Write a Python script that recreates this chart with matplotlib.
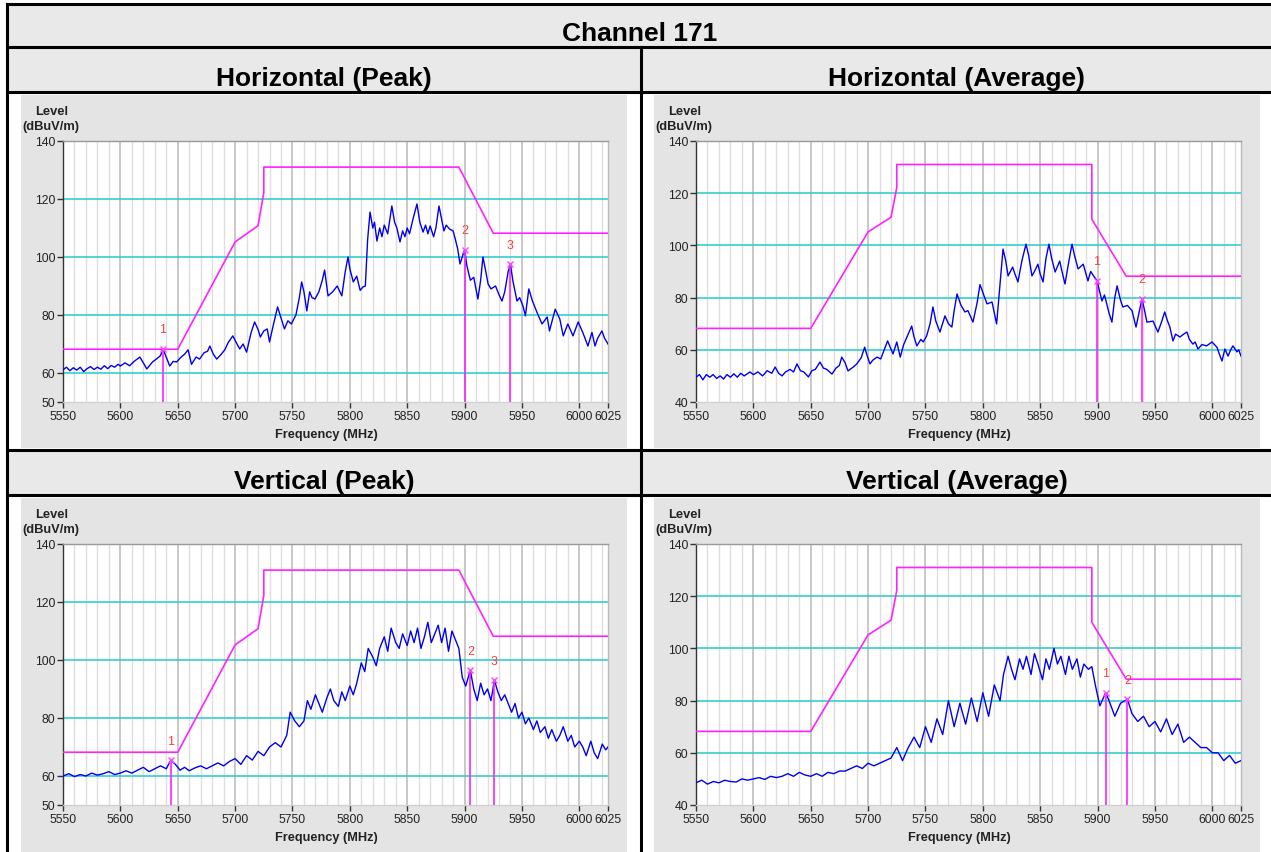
import numpy as np
import matplotlib
matplotlib.use('Agg')
import matplotlib.pyplot as plt
from matplotlib.patches import Rectangle
from matplotlib.lines import Line2D

plt.rcParams['font.family'] = ['Liberation Sans', 'DejaVu Sans']

# ---------------- data ----------------
title = "Channel 171"
panel_titles = ["Horizontal (Peak)", "Horizontal (Average)", "Vertical (Peak)", "Vertical (Average)"]

# Horizontal peak trace (MHz, dBuV/m)
hp_freq = [5550, 5553, 5556, 5559, 5562, 5565, 5568, 5571, 5574, 5577, 5580, 5583, 5586, 5589, 5592, 5595, 5598, 5600,
           5604, 5608, 5612, 5617, 5620, 5623, 5628, 5632, 5635, 5637, 5640, 5643, 5646, 5649, 5653, 5656, 5659, 5662,
           5666, 5669, 5673, 5676, 5678, 5681, 5684, 5688, 5691, 5694, 5698, 5701, 5704, 5707, 5710, 5714, 5717, 5720,
           5722, 5725, 5728, 5730, 5733, 5737, 5740, 5743, 5746, 5749, 5753, 5756, 5758, 5760, 5762.5, 5765, 5767,
           5769.6, 5773, 5776, 5778, 5781, 5785, 5789, 5793, 5796, 5798.4, 5800, 5803, 5806, 5809, 5811.5, 5813.5,
           5815.5, 5817.6, 5820, 5821.5, 5823.6, 5826, 5828, 5830, 5833, 5836.6, 5839, 5841, 5843.7, 5846, 5848, 5850,
           5852, 5855, 5858.5, 5861, 5863.8, 5866, 5868, 5870, 5873, 5875, 5877.7, 5880, 5882, 5884, 5887, 5890, 5892,
           5894, 5896, 5898, 5900, 5902, 5905, 5908, 5911.6, 5914, 5916, 5918, 5920.5, 5923, 5927, 5930, 5932.6, 5935,
           5938, 5940, 5942, 5945.7, 5948, 5951, 5953, 5956, 5959, 5963, 5967.5, 5972, 5974, 5979, 5983, 5986, 5990,
           5994.5, 5999, 6003, 6007.5, 6011, 6013.7, 6016, 6019.7, 6022, 6025]
hp_level = [61.1, 62, 60.8, 61.8, 61, 62, 60.5, 61.5, 62.2, 61.2, 62, 61.3, 62.5, 61.5, 62.6, 62, 63, 62.4,
            63.5, 62.5, 64, 65.5, 63.5, 61.4, 63.8, 65, 66, 68.3, 65.5, 62.4, 64, 63.8, 65.5, 66.5, 68, 63,
            65.5, 64.8, 67, 67.5, 69.3, 66.5, 64.8, 66.5, 68, 70.5, 72.8, 70.5, 68.3, 70, 67.2, 74, 77.6, 75,
            72.4, 74.5, 75.2, 70.7, 76, 82.8, 79, 75.2, 78, 76.9, 80, 86, 91.4, 88, 81.4, 88, 86,
            85.5, 88, 92, 95.5, 86.6, 88, 90, 86.6, 95, 100, 96, 91.4, 93.4, 88.5, 89.7, 90,
            106, 115.5, 110, 112, 105.5, 110, 107, 111, 108, 117.6, 112, 110, 105.2, 109, 107, 110,
            108, 113, 118.3, 112, 108.6, 111, 108, 110.7, 107, 110, 117.6, 113, 109, 111, 109.6, 109, 106,
            102.8, 97.6, 100, 102.5, 97, 92, 93, 85.5, 92, 100, 96, 90.7, 89, 90, 87, 84.8, 88,
            95, 97.5, 92, 84.8, 86, 83, 79.7, 89, 85, 81, 76.9, 79.3, 74.5, 82, 78.6, 72.8, 76.9,
            72.8, 77.6, 74, 69.3, 74, 69.3, 72, 74.5, 72, 70]

# Horizontal average trace
ha_freq = [5550, 5553, 5556, 5559, 5562, 5565, 5568, 5571, 5574, 5577, 5580, 5583, 5586, 5589, 5592, 5597, 5600,
           5604, 5608, 5612, 5616, 5619, 5622, 5625, 5628, 5632, 5635, 5638, 5641, 5644, 5648, 5651, 5654, 5658,
           5661, 5664, 5668.5, 5672, 5675, 5677, 5680, 5682.5, 5687, 5690, 5694, 5697, 5699, 5701.6, 5704, 5707.8,
           5711, 5714, 5717, 5721.7, 5725, 5728, 5731, 5734, 5738, 5740, 5742.5, 5746, 5748, 5751, 5754, 5756.5,
           5759, 5762.6, 5767, 5770, 5773, 5775, 5777.5, 5781, 5784.4, 5787, 5789, 5791.4, 5795, 5797.5, 5800,
           5803.6, 5808, 5810, 5812, 5814, 5817.6, 5820, 5822, 5826, 5828, 5830.6, 5834, 5837.6, 5840, 5842.8,
           5845, 5848, 5850, 5852.5, 5855, 5857.6, 5860, 5863, 5867, 5869, 5871.6, 5875, 5877.7, 5880, 5883,
           5887.5, 5891.6, 5894, 5897, 5899.5, 5903.8, 5906, 5908, 5910, 5912.5, 5915, 5917, 5920, 5922, 5926,
           5930, 5933.5, 5936, 5938.7, 5941, 5943, 5948.3, 5952.6, 5956, 5958.5, 5961, 5963, 5965.7, 5968, 5971.8,
           5975, 5977.9, 5980, 5983, 5985, 5987.5, 5991, 5995, 5999.7, 6004, 6006, 6008.4, 6011, 6013.7, 6016,
           6018, 6021.5, 6023, 6025]
ha_level = [49.5, 50.5, 48.5, 50.5, 49.5, 50.5, 49, 50, 48.8, 50.5, 49.5, 50.8, 49.5, 51, 50, 51.5, 50.5,
            51.5, 50, 52, 51, 53.4, 51, 50, 51.5, 52.5, 51.5, 54.6, 52, 51.5, 49.6, 52, 52.5, 55.3,
            53, 52.5, 50.7, 53, 54, 57.2, 55, 51.9, 53.4, 54.5, 57, 61, 58, 54.6, 56, 57.2,
            56.5, 60, 63.4, 58.4, 63, 57.2, 62, 65, 69.1, 65, 61.5, 64, 63, 65.3, 70, 76.4,
            71, 66.8, 73, 70, 68.7, 75, 81.4, 77, 74.5, 75, 73, 70.6, 78, 85, 82,
            77.6, 78.3, 74, 69.9, 80, 98.6, 94, 88.3, 91.7, 89, 86, 94, 100.5, 96, 88.3,
            90, 92.8, 89, 86, 95, 100.5, 95, 89.8, 94, 90, 85.2, 94, 100.5, 96, 91,
            92.8, 86.4, 90, 88, 86.5, 78.7, 81, 77.6, 74, 70.6, 80, 84.5, 79, 76.4, 77,
            75, 68.7, 74, 79.5, 75, 70.6, 71, 66.8, 71, 74.5, 71, 68.7, 63.4, 66, 64.9,
            66, 66.8, 64, 62.2, 63, 60.3, 62, 61.5, 63, 61, 58.5, 55.7, 60.3, 57.6, 60,
            61.5, 59.2, 60, 57.6]

# Vertical peak trace
vp_freq = [5550, 5555, 5560, 5565, 5570, 5575, 5580, 5585, 5590, 5595, 5600, 5605, 5610, 5615, 5620, 5625,
           5630, 5635, 5640, 5644, 5648, 5652, 5656, 5660, 5665, 5670, 5675, 5680, 5685, 5690, 5695, 5700,
           5705, 5710, 5715, 5720, 5725, 5730, 5735, 5740, 5745, 5748, 5752, 5756, 5760, 5763, 5766, 5770,
           5773, 5776, 5780, 5783, 5786, 5790, 5793, 5796, 5800, 5803, 5806, 5810, 5813, 5816, 5820, 5823,
           5826, 5830, 5833, 5836, 5840, 5843, 5846, 5850, 5853, 5856, 5859, 5862, 5865, 5868, 5871, 5874,
           5877, 5880, 5883, 5886, 5889, 5892, 5895, 5898, 5901, 5905, 5908, 5911, 5914, 5917, 5920, 5923,
           5926, 5929, 5932, 5935, 5938, 5941, 5944, 5947, 5950, 5953, 5956, 5960, 5963, 5966, 5970, 5973,
           5976, 5980, 5983, 5986, 5990, 5993, 5996, 6000, 6003, 6006, 6010, 6013, 6016, 6020, 6023, 6025]
vp_level = [60, 60.8, 59.8, 60.5, 60, 61, 60.3, 60.8, 61.5, 60.5, 61, 61.8, 61, 62, 63, 61.5,
            62.5, 63.5, 62.5, 65.5, 64, 62, 63, 61.8, 62.8, 63.5, 62.5, 63.5, 64.5, 63.5, 65, 66,
            64, 67, 65.5, 68.5, 67, 70, 71.5, 70, 74, 82, 79, 77, 79, 86, 83, 88,
            85, 82, 87, 90, 86, 84, 89, 86, 91, 88, 92, 99, 96, 104, 101, 98,
            104, 108, 103, 111, 106, 104, 109, 105, 110, 106, 111, 104, 108, 113, 106, 109,
            112, 106, 111, 103, 110, 107, 104, 94, 91, 96.5, 90, 86, 92, 88, 90, 86,
            93, 89, 86, 88, 85, 82, 85, 80, 82, 78, 80, 76, 79, 75, 77, 73,
            76, 72, 74, 77, 72, 74, 70, 72, 70, 67, 72, 68, 66, 71, 69, 70]

# Vertical average trace
va_freq = [5550, 5555, 5560, 5565, 5570, 5575, 5580, 5585, 5590, 5595, 5600, 5605, 5610, 5615, 5620, 5625,
           5630, 5635, 5640, 5645, 5650, 5655, 5660, 5665, 5670, 5675, 5680, 5685, 5690, 5695, 5700, 5705,
           5710, 5715, 5720, 5725, 5730, 5735, 5740, 5745, 5750, 5755, 5760, 5765, 5770, 5775, 5780, 5785,
           5790, 5795, 5800, 5805, 5810, 5815, 5818, 5822, 5825, 5828, 5832, 5835, 5838, 5842, 5845, 5848,
           5852, 5855, 5858, 5862, 5865, 5868, 5872, 5875, 5878, 5882, 5885, 5888, 5892, 5895, 5898, 5902,
           5907, 5910, 5915, 5920, 5926, 5930, 5935, 5940, 5945, 5950, 5955, 5960, 5965, 5970, 5975, 5980,
           5985, 5990, 5995, 6000, 6005, 6010, 6015, 6020, 6025]
va_level = [48.5, 49.5, 48, 49, 48.5, 49.5, 49, 48.8, 50, 49.5, 50, 50.5, 49.8, 51, 50.5, 51,
            52, 51, 52.5, 51.5, 51, 52, 51, 52.5, 52, 53, 53, 54, 55, 54, 56, 55,
            56, 57, 58, 62, 57, 62, 66, 62, 70, 64, 73, 67, 80, 70, 79, 71,
            81, 72, 83, 74, 86, 80, 90, 97, 92, 88, 96, 92, 97, 90, 98, 94,
            88, 96, 92, 100, 94, 97, 90, 97, 92, 96, 89, 94, 92, 93, 86, 78,
            83, 80, 74, 79, 80.5, 75, 72, 74, 70, 72, 68, 73, 67, 71, 64, 66,
            64, 62, 62, 60, 60, 57, 59, 56, 57]

peak_limit_f = [5550, 5650, 5700, 5720, 5725, 5725, 5895, 5925, 6025]
peak_limit_l = [68.2, 68.2, 105.2, 110.8, 122.2, 131, 131, 108.2, 108.2]
avg_limit_f = [5550, 5650, 5700, 5720, 5725, 5725, 5895, 5895, 5925, 6025]
avg_limit_l = [68.2, 68.2, 105.2, 110.8, 122.2, 131, 131, 110.0, 88.2, 88.2]

hp_mark_f = [5637, 5900, 5940]
hp_mark_l = [68.3, 102.5, 97.5]
ha_mark_f = [5899.5, 5938.7]
ha_mark_l = [86.5, 79.5]
vp_mark_f = [5644, 5905, 5926]
vp_mark_l = [65.5, 96.5, 93]
va_mark_f = [5907, 5926]
va_mark_l = [83, 80.5]

x_ticks = [5550, 5600, 5650, 5700, 5750, 5800, 5850, 5900, 5950, 6000, 6025]
peak_yticks = [50, 60, 80, 100, 120, 140]
avg_yticks = [40, 60, 80, 100, 120, 140]

# ---------------- layout ----------------
W, H = 1271, 853
fig = plt.figure(figsize=(W / 100, H / 100), dpi=100)


def fx(px):
    return px / W


def fy(py):
    return 1 - py / H


def rect(x0, y0, x1, y1, color):
    fig.patches.append(Rectangle((fx(x0), fy(y1)), fx(x1) - fx(x0), fy(y0) - fy(y1),
                                 transform=fig.transFigure, facecolor=color,
                                 edgecolor='none', zorder=-10))


def line(x0, y0, x1, y1, lw=2.2):
    fig.add_artist(Line2D([fx(x0), fx(x1)], [fy(y0), fy(y1)], transform=fig.transFigure,
                          color='black', lw=lw, solid_capstyle='projecting', zorder=5))


# header bands
rect(7, 5, W, 48, '#e9e9e9')
rect(7, 48, W, 93, '#e9e9e9')
rect(7, 451, W, 496, '#e9e9e9')
# plot panels
rect(21, 96, 627, 449, '#e4e4e4')
rect(654, 96, 1260, 449, '#e4e4e4')
rect(21, 499, 627, 853, '#e4e4e4')
rect(654, 499, 1260, 853, '#e4e4e4')

# borders
for yy in [5, 48, 93, 451, 496]:
    line(7, yy, W, yy)
line(7, 5, 7, H)
line(641, 48, 641, H)

TFS = 19
fig.text(fx(640), fy(34), title, ha='center', va='center', fontsize=TFS, fontweight='bold')
fig.text(fx(324), fy(79), panel_titles[0], ha='center', va='center', fontsize=TFS, fontweight='bold')
fig.text(fx(957), fy(79), panel_titles[1], ha='center', va='center', fontsize=TFS, fontweight='bold')
fig.text(fx(324), fy(482), panel_titles[2], ha='center', va='center', fontsize=TFS, fontweight='bold')
fig.text(fx(957), fy(482), panel_titles[3], ha='center', va='center', fontsize=TFS, fontweight='bold')

panels = [
    (63, 142, hp_freq, hp_level, peak_limit_f, peak_limit_l, hp_mark_f, hp_mark_l, peak_yticks),
    (696, 142, ha_freq, ha_level, avg_limit_f, avg_limit_l, ha_mark_f, ha_mark_l, avg_yticks),
    (63, 545, vp_freq, vp_level, peak_limit_f, peak_limit_l, vp_mark_f, vp_mark_l, peak_yticks),
    (696, 545, va_freq, va_level, avg_limit_f, avg_limit_l, va_mark_f, va_mark_l, avg_yticks),
]

AW, AH = 545, 261

for (x0, y0, fr, lev, lf, ll, mf, ml, yt) in panels:
    ax = fig.add_axes([fx(x0), fy(y0 + AH), fx(AW), AH / H])
    ax.set_zorder(2)
    ax.set_facecolor('white')
    ymin = yt[0]
    ax.set_xlim(5550, 6025)
    ax.set_ylim(ymin, 140)
    # vertical grid
    for f in range(5560, 6025, 10):
        major = (f % 50 == 0)
        ax.axvline(f, color='#c4c4c4' if major else '#dedede', lw=1.3 if major else 1.0, zorder=1)
    for yv in yt:
        if ymin < yv < 140:
            ax.axhline(yv, color='#22cccc', lw=1.1, zorder=2)
    ax.plot(lf, ll, color='#ff22ff', lw=1.2, zorder=3)
    ax.plot(fr, lev, color='#0000ee', lw=1.0, zorder=4)
    for i, (f, l) in enumerate(zip(mf, ml)):
        ax.vlines(f, ymin, l, color='#ff22ff', lw=1.2, zorder=5)
        ax.plot([f], [l], marker='x', color='#ff44ff', ms=4, mew=1, zorder=6)
        ax.annotate(str(i + 1), (f, l), xytext=(0, 14), textcoords='offset points',
                    ha='center', va='center', color='#ff3b3b', fontsize=9)
    ax.set_xticks(x_ticks)
    ax.set_xticklabels([str(v) for v in x_ticks], fontsize=8.8, color='#222222')
    ax.set_yticks(yt)
    ax.set_yticklabels([str(v) for v in yt], fontsize=8.8, color='#222222')
    ax.tick_params(length=4, width=1, color='#333333', pad=1.5)
    ax.spines['left'].set_color('#333333')
    ax.spines['bottom'].set_color('#d0d0d0')
    ax.spines['top'].set_color('#999999')
    ax.spines['right'].set_color('#bbbbbb')
    for s in ax.spines.values():
        s.set_linewidth(1.0)
    # axis labels
    fig.text(fx(x0 - 11), fy(y0 - 30), "Level", ha='center', va='center', fontsize=9.3, fontweight='bold', color='#222222')
    fig.text(fx(x0 - 12), fy(y0 - 15), "(dBuV/m)", ha='center', va='center', fontsize=9.3, fontweight='bold', color='#222222')
    fig.text(fx(x0 + 263), fy(y0 + AH + 32), "Frequency (MHz)", ha='center', va='center', fontsize=9.2, fontweight='bold', color='#222222')

fig.savefig('out.png', dpi=100)
